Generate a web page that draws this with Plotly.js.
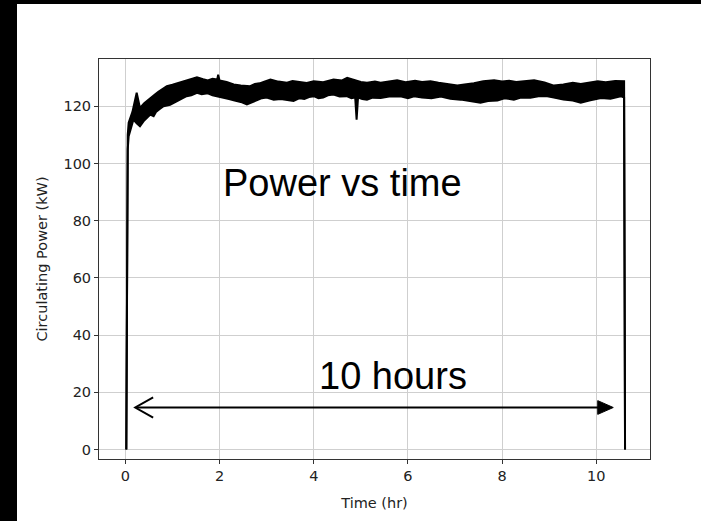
<!DOCTYPE html>
<html>
<head>
<meta charset="utf-8">
<script src="https://cdn.plot.ly/plotly-3.0.1.min.js"></script>
<style>
  html, body { margin: 0; padding: 0; background: #000; width: 701px; height: 521px; overflow: hidden; }
  #chart { position: absolute; left: 17px; top: 4px; width: 684px; height: 517px; background: #fff; }
</style>
</head>
<body>
<div id="chart"></div>
<script>
// Lower envelope of the noisy power trace (hr, kW)
const lowerTime = [0.02,0.03,0.04,0.05,0.07,0.12,0.17,0.24,0.31,0.40,0.46,0.53,0.60,0.65,0.73,0.81,0.95,1.10,1.20,1.30,1.40,1.52,1.62,1.75,1.85,1.95,2.10,2.20,2.32,2.45,2.58,2.70,2.80,2.90,3.00,3.15,3.30,3.45,3.57,3.70,3.80,3.90,4.00,4.10,4.20,4.30,4.42,4.55,4.70,4.80,4.88,4.91,4.94,5.03,5.13,5.25,5.42,5.60,5.84,6.00,6.13,6.30,6.50,6.70,6.90,7.12,7.30,7.54,7.70,7.90,8.05,8.25,8.40,8.60,8.80,8.96,9.10,9.30,9.50,9.67,9.85,10.10,10.30,10.52,10.59,10.60,10.61];
const lowerPower = [0,36,36,105,109.5,112,115.3,114,113,115,116,117.1,116.5,118,119,120,120.5,121.8,122.5,123.5,123.8,124.7,124.2,124.5,123.8,123.5,123,122.5,122,121.5,120.6,121.5,122,122.8,123,122.3,122.5,122,121.8,122.8,122.5,123.2,123.5,122.8,123,123.8,124.1,123.4,123.5,122.8,123,115.3,123,122.5,122.3,123,122.9,123.4,123.5,122.8,123.5,123,122.8,123.4,122.6,122.3,121.8,121.2,121.8,122,122.8,122.3,123,123,123.6,123.5,123,122.3,122,121.2,122,122.9,122.6,123.5,123,36,0];
// Upper envelope of the noisy power trace (hr, kW)
const upperTime = [0.02,0.03,0.04,0.05,0.07,0.15,0.24,0.31,0.40,0.53,0.62,0.70,0.80,0.88,1.00,1.10,1.20,1.31,1.42,1.52,1.65,1.75,1.85,1.95,1.97,2.00,2.15,2.30,2.45,2.65,2.75,2.85,2.95,3.08,3.25,3.43,3.55,3.70,3.85,4.00,4.20,4.42,4.60,4.71,4.85,5.00,5.13,5.30,5.42,5.60,5.77,5.95,6.15,6.30,6.48,6.65,6.85,7.05,7.20,7.40,7.60,7.83,8.00,8.15,8.30,8.50,8.68,8.90,9.10,9.30,9.50,9.67,9.85,10.03,10.20,10.40,10.59,10.60,10.61];
const upperPower = [0,36,36,110,114.2,118,124.7,119.4,121,122.9,124,125,126,127,127.5,128,128.7,129.3,129.6,130.1,129.4,129,129.6,129.3,131,129,128.5,127.6,127.2,127,127.8,128,128.6,129.3,128.6,128.2,128.8,128.5,128.1,128.7,128.4,129.3,129,129.9,129.2,128.5,128.2,128.6,128.2,128.8,129.1,128.4,128.9,128.5,128.7,128.2,127.8,127.2,127.6,128,128.7,129.1,128.6,128.9,128.5,128.8,129.1,128.3,127.2,127.6,128.2,127.8,128.3,128.7,128.4,128.8,128.7,36,0];

const xTicks = [0,2,4,6,8,10];
const yTicks = [0,20,40,60,80,100,120];

const traces = [
  { x: lowerTime, y: lowerPower, mode: 'lines', line: {color: '#000', width: 2}, hoverinfo: 'skip', showlegend: false },
  { x: upperTime, y: upperPower, mode: 'lines', fill: 'tonexty', fillcolor: '#000', line: {color: '#000', width: 2}, hoverinfo: 'skip', showlegend: false }
];

const tickFont = {family: 'DejaVu Sans', size: 14.5, color: '#222'};
const layout = {
  width: 684, height: 517,
  margin: {l: 82, r: 51, t: 55, b: 62},
  paper_bgcolor: '#fff', plot_bgcolor: '#fff',
  showlegend: false,
  xaxis: {
    range: [-0.56, 11.14], tickvals: xTicks, ticktext: xTicks.map(String),
    showgrid: true, gridcolor: '#cfcfcf', gridwidth: 1, zeroline: false,
    showline: true, mirror: true, linecolor: '#333', linewidth: 1,
    ticks: 'outside', ticklen: 4, tickcolor: '#333', tickfont: tickFont,
    title: {text: 'Time (hr)', font: {family: 'DejaVu Sans', size: 14.5, color: '#222'}, standoff: 14}
  },
  yaxis: {
    range: [-3.3, 136.5], tickvals: yTicks, ticktext: yTicks.map(String),
    showgrid: true, gridcolor: '#cfcfcf', gridwidth: 1, zeroline: false,
    showline: true, mirror: true, linecolor: '#333', linewidth: 1,
    ticks: 'outside', ticklen: 4, tickcolor: '#333', tickfont: tickFont,
    title: {text: 'Circulating Power (kW)', font: {family: 'DejaVu Sans', size: 14.5, color: '#222'}, standoff: 12}
  },
  annotations: [
    {text: 'Power vs time', x: 4.62, y: 93.2, xref: 'x', yref: 'y', showarrow: false,
     xanchor: 'center', yanchor: 'middle', font: {family: 'Liberation Sans, Arial', size: 38, color: '#000'}},
    {text: '10 hours', x: 5.68, y: 25.6, xref: 'x', yref: 'y', showarrow: false,
     xanchor: 'center', yanchor: 'middle', font: {family: 'Liberation Sans, Arial', size: 38, color: '#000'}}
  ],
  shapes: [
    {type: 'line', xref: 'x', yref: 'y', x0: 0.23, x1: 10.1, y0: 14.7, y1: 14.7, line: {color: '#000', width: 2}},
    {type: 'path', xref: 'x', yref: 'y', path: 'M 0.59 18.2 L 0.21 14.7 L 0.59 11.2', line: {color: '#000', width: 2}},
    {type: 'path', xref: 'x', yref: 'y', path: 'M 10.36 14.7 L 10.03 17.1 L 10.03 12.3 Z', fillcolor: '#000', line: {color: '#000', width: 1}}
  ]
};

Plotly.newPlot('chart', traces, layout, {displayModeBar: false, staticPlot: true});
</script>
</body>
</html>
